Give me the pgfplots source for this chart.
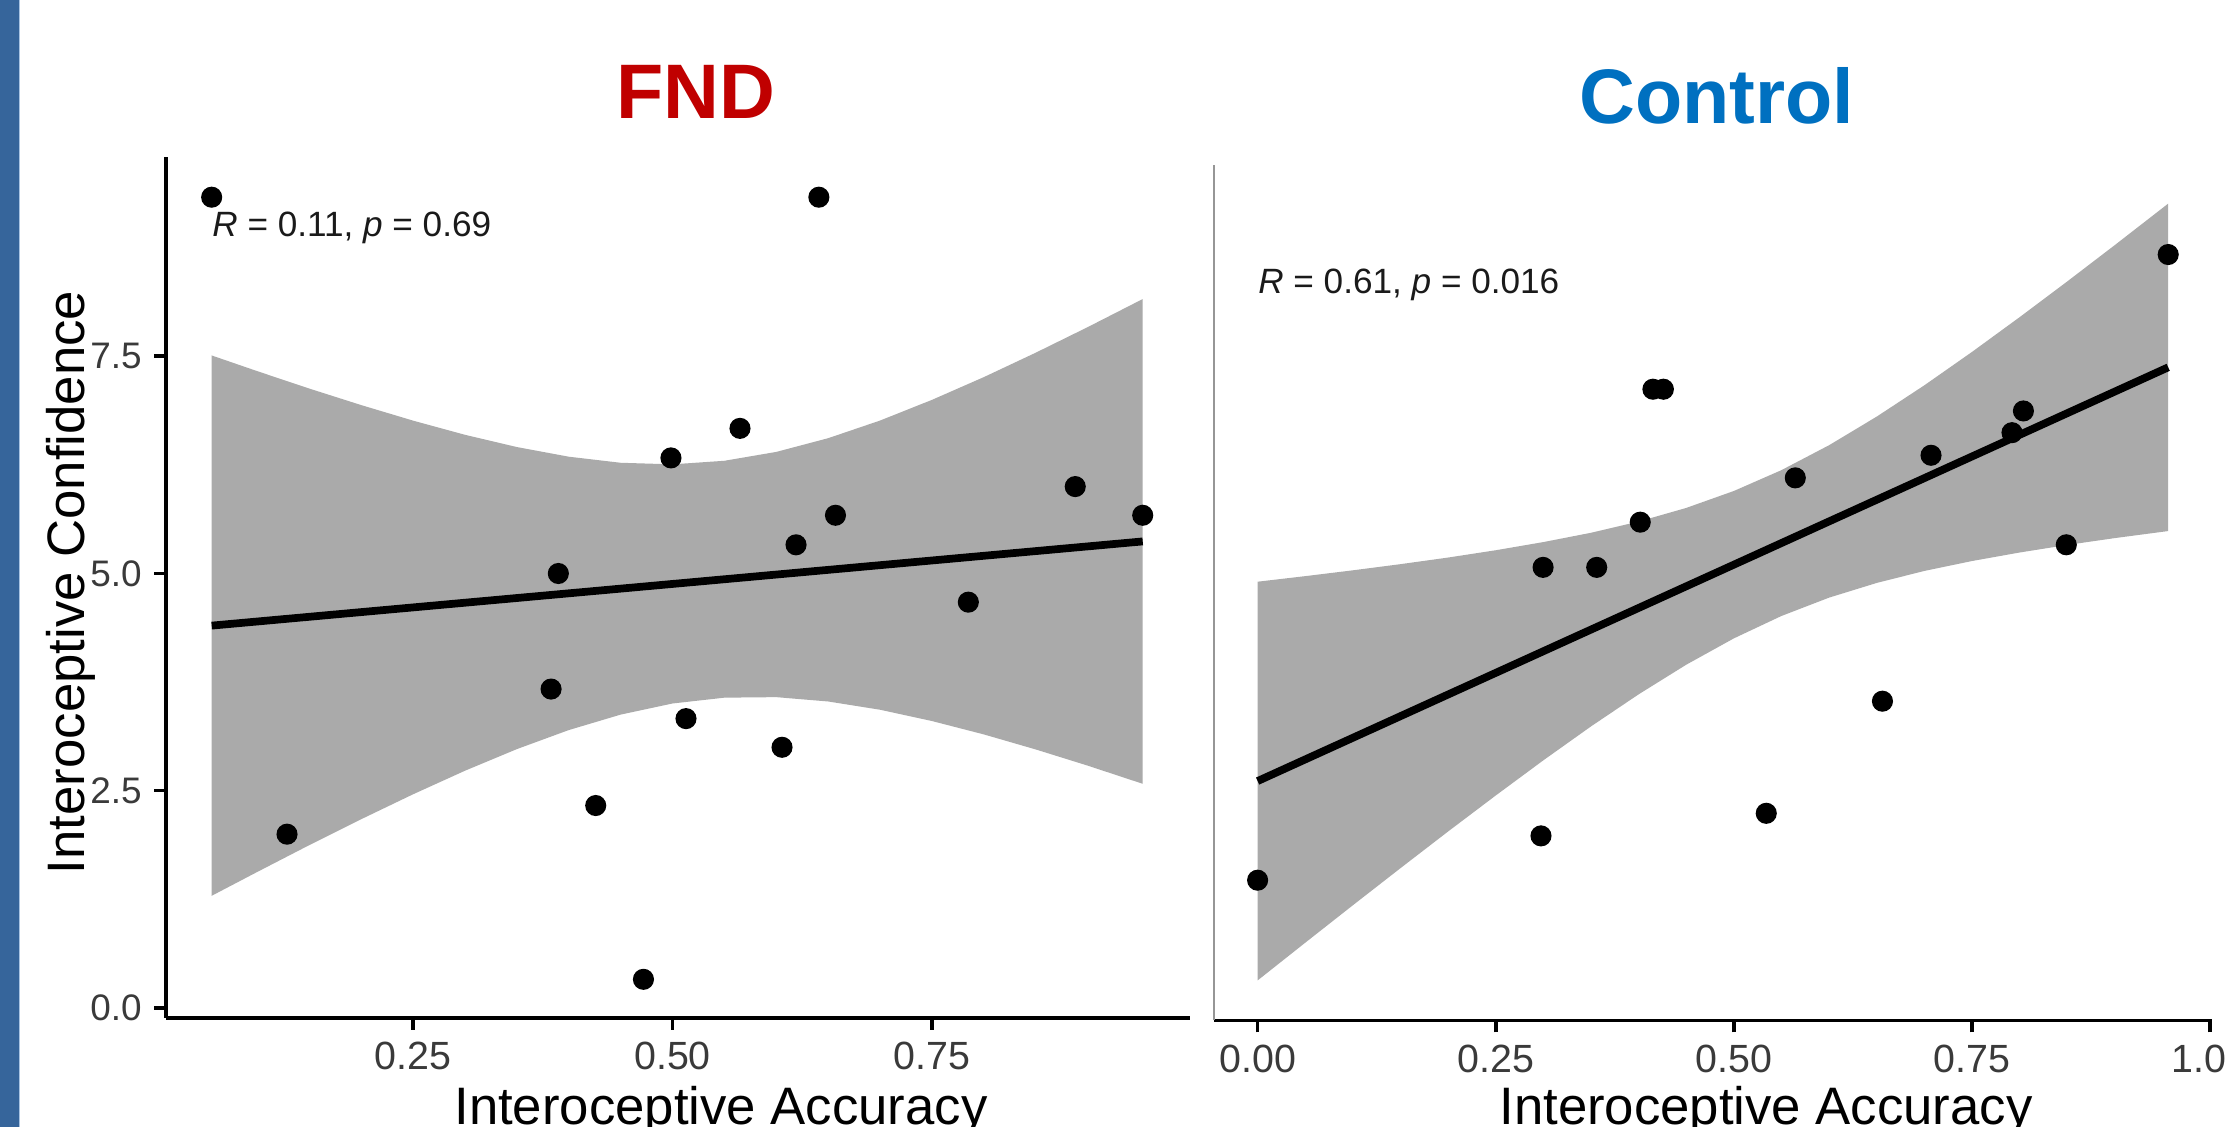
\documentclass[border=0pt]{standalone}
\usepackage{fontspec}
\setmainfont{Liberation Sans}
\usepackage{pgfplots}
\pgfplotsset{compat=1.18}
\definecolor{fndred}{HTML}{C00000}
\definecolor{ctrlblue}{HTML}{0070C0}
\definecolor{sidebar}{HTML}{36659B}
\definecolor{sideline}{HTML}{A9C4E3}
\definecolor{bandgray}{HTML}{AAAAAA}
\definecolor{ticktext}{HTML}{3A3A3A}
\definecolor{rtext}{HTML}{1A1A1A}
\definecolor{yaxgray}{HTML}{969696}
\pgfplotsset{
  panel/.style={
    scale only axis,
    axis lines*=left,
    tick align=outside,
    major tick length=0.12cm,
    every tick/.style={black, line width=1pt},
    axis line style={line width=1pt, black},
    yticklabel style={font=\fontsize{10.5}{12}\selectfont, text=ticktext},
    xticklabel style={font=\fontsize{11.2}{13}\selectfont, text=ticktext},
    /pgf/number format/assume math mode=true,
  },
  pts/.style={only marks, mark=*, mark size=2.8pt, mark options={fill=black, draw=black}},
}
\begin{document}
\begin{tikzpicture}
\fill[white] (0,0) rectangle (22.26,11.27);
\begin{scope}
\clip (0,0) rectangle (22.26,11.27);
\fill[sidebar] (0,0) rectangle (0.19,11.27);
\fill[sideline] (0.19,0) rectangle (0.20,11.27);

% ---------------- FND ----------------
\begin{axis}[panel,
  at={(1.66cm,1.09cm)}, anchor=south west,
  width=10.24cm, height=8.61cm,
  xmin=0.012, xmax=0.9986, ymin=-0.115, ymax=9.793,
  xtick={0.25,0.5,0.75}, xticklabels={0.25,0.50,0.75},
  ytick={0,2.5,5,7.5}, yticklabels={0.0,2.5,5.0,7.5},
]
\addplot[fill=bandgray, draw=none] coordinates {
(0.056,7.509)(0.10,7.328)(0.15,7.128)(0.20,6.938)(0.25,6.759)(0.30,6.596)(0.35,6.455)(0.40,6.344)(0.45,6.274)(0.50,6.256)(0.55,6.297)(0.60,6.399)(0.65,6.557)(0.70,6.760)(0.75,6.998)(0.80,7.260)(0.85,7.541)(0.90,7.835)(0.953,8.158)
(0.953,2.580)(0.90,2.789)(0.85,2.975)(0.80,3.148)(0.75,3.302)(0.70,3.432)(0.65,3.527)(0.60,3.577)(0.55,3.571)(0.50,3.504)(0.45,3.376)(0.40,3.198)(0.35,2.979)(0.30,2.730)(0.25,2.459)(0.20,2.172)(0.15,1.874)(0.10,1.566)(0.056,1.291)
} -- cycle;
\addplot[black, line width=2.2pt] coordinates {(0.056,4.400)(0.953,5.369)};
\addplot[pts] coordinates {
(0.056,9.33)(0.641,9.33)(0.565,6.67)(0.4985,6.33)(0.888,6.0)(0.657,5.67)(0.953,5.67)(0.619,5.33)
(0.390,5.0)(0.785,4.67)(0.383,3.67)(0.513,3.33)(0.6055,3.0)(0.426,2.33)(0.1286,2.0)(0.472,0.33)
};
\node[anchor=west, inner sep=0pt, text=rtext, font=\fontsize{10}{12}\selectfont] at (axis cs:0.056,8.98) {\textit{R} = 0.11, \textit{p} = 0.69};
\end{axis}

% ---------------- Control ----------------
\begin{axis}[panel,
  at={(12.138cm,1.066cm)}, anchor=south west,
  width=9.982cm, height=8.558cm,
  xmin=-0.046, xmax=1.002, ymin=-0.143, ymax=9.705,
  xtick={0,0.25,0.5,0.75,1}, xticklabels={0.00,0.25,0.50,0.75,1.00},
  ytick=\empty,
  y axis line style={line width=0.5pt, yaxgray},
]
\addplot[fill=bandgray, draw=none] coordinates {
(0,4.905)(0.05,4.969)(0.10,5.036)(0.15,5.107)(0.20,5.183)(0.25,5.267)(0.30,5.361)(0.35,5.468)(0.40,5.597)(0.45,5.754)(0.50,5.949)(0.55,6.189)(0.60,6.476)(0.65,6.805)(0.70,7.165)(0.75,7.549)(0.80,7.949)(0.85,8.360)(0.90,8.779)(0.956,9.256)
(0.956,5.488)(0.90,5.407)(0.85,5.328)(0.80,5.241)(0.75,5.143)(0.70,5.029)(0.65,4.891)(0.60,4.722)(0.55,4.511)(0.50,4.253)(0.45,3.950)(0.40,3.609)(0.35,3.240)(0.30,2.850)(0.25,2.445)(0.20,2.031)(0.15,1.609)(0.10,1.182)(0.05,0.751)(0,0.317)
} -- cycle;
\addplot[black, line width=2.2pt] coordinates {(0,2.611)(0.956,7.372)};
\addplot[pts] coordinates {
(0.956,8.67)(0.415,7.12)(0.426,7.12)(0.804,6.87)(0.792,6.62)(0.707,6.36)(0.5645,6.10)(0.4017,5.59)
(0.2997,5.07)(0.356,5.07)(0.849,5.33)(0.656,3.53)(0.534,2.24)(0.2975,1.98)(0.0,1.47)
};
\node[anchor=west, inner sep=0pt, text=rtext, font=\fontsize{10}{12}\selectfont] at (axis cs:0.0,8.32) {\textit{R} = 0.61, \textit{p} = 0.016};
\end{axis}

% titles and labels
\node[font=\bfseries\fontsize{22}{26}\selectfont, text=fndred] at (6.96,10.35) {FND};
\node[font=\bfseries\fontsize{22}{26}\selectfont, text=ctrlblue] at (17.17,10.31) {Control};
\node[rotate=90, anchor=base, inner sep=0pt, font=\fontsize{15}{18}\selectfont] at (0.84,5.445) {Interoceptive Confidence};
\node[anchor=base, inner sep=0pt, font=\fontsize{15}{18}\selectfont] at (7.21,0.02) {Interoceptive Accuracy};
\node[anchor=base, inner sep=0pt, font=\fontsize{15}{18}\selectfont] at (17.66,0.02) {Interoceptive Accuracy};
\end{scope}
\pgfresetboundingbox
\path[use as bounding box] (0,0) rectangle (22.26,11.27);
\end{tikzpicture}
\end{document}
